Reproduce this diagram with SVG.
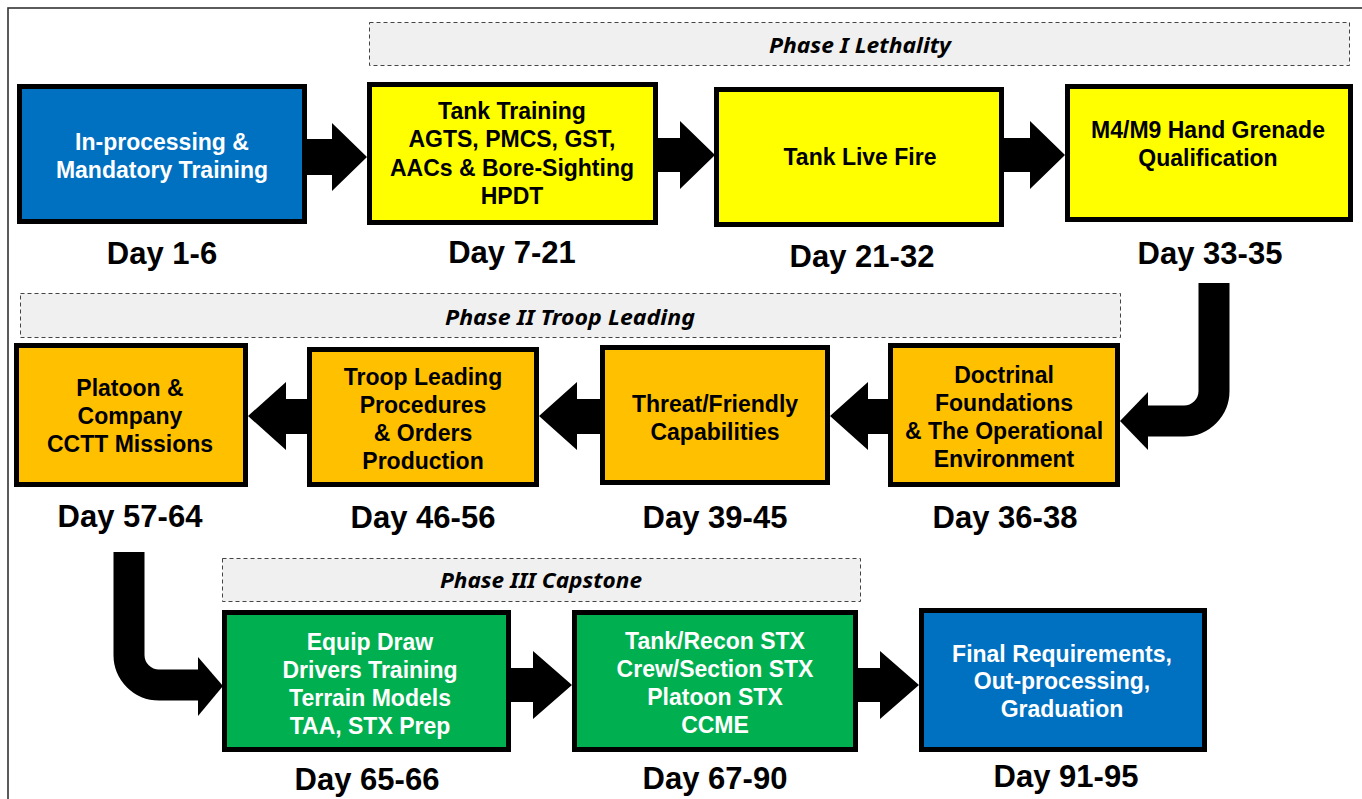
<svg xmlns="http://www.w3.org/2000/svg" width="1362" height="799" viewBox="0 0 1362 799">
<style>
.box{stroke:#000;stroke-width:5}
.blue{fill:#0070C0}.yellow{fill:#FFFF00}.orange{fill:#FFC000}.green{fill:#00B050}
.t{font-family:"Liberation Sans",Arial,sans-serif;font-weight:bold;font-size:23px;text-anchor:middle}
.w{fill:#fff}.k{fill:#000}
.day{font-family:"Liberation Sans",Arial,sans-serif;font-weight:bold;font-size:31px;text-anchor:middle;fill:#000}
.phase{fill:#f0f0f0;stroke:#444;stroke-width:1;stroke-dasharray:4 3}
.pt{font-family:"Noto Sans","DejaVu Sans",sans-serif;font-weight:bold;font-style:italic;font-size:21px;text-anchor:middle;fill:#000}
.arr{fill:#000}
.curve{fill:none;stroke:#000;stroke-width:31}
</style>
<rect x="0" y="0" width="1362" height="799" fill="#fff"/>
<rect x="8" y="8" width="1420" height="900" fill="none" stroke="#333" stroke-width="1.6"/>

<g id="phase1"><rect class="phase" x="369.5" y="22.5" width="980" height="43"/><text class="pt" x="860" y="53" textLength="182" lengthAdjust="spacingAndGlyphs">Phase I Lethality</text></g>
<g id="phase2"><rect class="phase" x="20.5" y="293.5" width="1100" height="44"/><text class="pt" x="570" y="325" textLength="250" lengthAdjust="spacingAndGlyphs">Phase II Troop Leading</text></g>
<g id="phase3"><rect class="phase" x="222.5" y="558.5" width="638" height="43"/><text class="pt" x="541" y="588" textLength="202" lengthAdjust="spacingAndGlyphs">Phase III Capstone</text></g>

<g id="connectors">
<polygon class="arr" points="305,139 332,139 332,123 367,157 332,191 332,175 305,175"/>
<polygon class="arr" points="656,138 680,138 680,121 715,155 680,189 680,172 656,172"/>
<polygon class="arr" points="1002,138 1030,138 1030,121 1065,155 1030,189 1030,172 1002,172"/>
<polygon class="arr" points="890,399 868,399 868,382 830,416 868,450 868,434 890,434"/>
<polygon class="arr" points="602,399 577,399 577,382 539,416 577,450 577,434 602,434"/>
<polygon class="arr" points="309,399 286,399 286,382 248,416 286,450 286,434 309,434"/>
<polygon class="arr" points="509,668 533,668 533,651 572,685 533,719 533,702 509,702"/>
<polygon class="arr" points="856,668 880,668 880,651 919,685 880,719 880,702 856,702"/>
<path class="curve" d="M1214,283 V391 A30,30 0 0 1 1184,421 H1146"/>
<polygon class="arr" points="1148,392 1120,421 1148,450"/>
<path class="curve" d="M129,552 V655 A30,30 0 0 0 159,685 H200"/>
<polygon class="arr" points="198,657 223,686 198,716"/>
</g>

<g id="n1"><rect class="box blue" x="19.5" y="86.5" width="285" height="135"/>
<text class="t w" x="162" y="150">In-processing &amp;</text><text class="t w" x="162" y="178">Mandatory Training</text>
<text class="day" x="162" y="264">Day 1-6</text></g>

<g id="n2"><rect class="box yellow" x="369.5" y="84.5" width="286" height="138"/>
<text class="t k" x="512" y="119">Tank Training</text><text class="t k" x="512" y="147">AGTS, PMCS, GST,</text><text class="t k" x="512" y="176">AACs &amp; Bore-Sighting</text><text class="t k" x="512" y="204">HPDT</text>
<text class="day" x="512" y="263">Day 7-21</text></g>

<g id="n3"><rect class="box yellow" x="716.5" y="89.5" width="285" height="135"/>
<text class="t k" x="860" y="165">Tank Live Fire</text>
<text class="day" x="862" y="267">Day 21-32</text></g>

<g id="n4"><rect class="box yellow" x="1067.5" y="86.5" width="283" height="133"/>
<text class="t k" x="1208" y="138">M4/M9 Hand Grenade</text><text class="t k" x="1208" y="166">Qualification</text>
<text class="day" x="1210" y="264">Day 33-35</text></g>

<g id="n5"><rect class="box orange" x="890.5" y="345.5" width="227" height="139"/>
<text class="t k" x="1004" y="383">Doctrinal</text><text class="t k" x="1004" y="411">Foundations</text><text class="t k" x="1004" y="439">&amp; The Operational</text><text class="t k" x="1004" y="467">Environment</text>
<text class="day" x="1005" y="528">Day 36-38</text></g>

<g id="n6"><rect class="box orange" x="602.5" y="347.5" width="225" height="135"/>
<text class="t k" x="715" y="412">Threat/Friendly</text><text class="t k" x="715" y="440">Capabilities</text>
<text class="day" x="715" y="528">Day 39-45</text></g>

<g id="n7"><rect class="box orange" x="309.5" y="349.5" width="227" height="135"/>
<text class="t k" x="423" y="385">Troop Leading</text><text class="t k" x="423" y="413">Procedures</text><text class="t k" x="423" y="441">&amp; Orders</text><text class="t k" x="423" y="469">Production</text>
<text class="day" x="423" y="528">Day 46-56</text></g>

<g id="n8"><rect class="box orange" x="16.5" y="345.5" width="229" height="139"/>
<text class="t k" x="130" y="396">Platoon &amp;</text><text class="t k" x="130" y="424">Company</text><text class="t k" x="130" y="452">CCTT Missions</text>
<text class="day" x="130" y="527">Day 57-64</text></g>

<g id="n9"><rect class="box green" x="224.5" y="612.5" width="284" height="137"/>
<text class="t w" x="370" y="650">Equip Draw</text><text class="t w" x="370" y="678">Drivers Training</text><text class="t w" x="370" y="706">Terrain Models</text><text class="t w" x="370" y="734">TAA, STX Prep</text>
<text class="day" x="367" y="790">Day 65-66</text></g>

<g id="n10"><rect class="box green" x="574.5" y="612.5" width="281" height="137"/>
<text class="t w" x="715" y="649">Tank/Recon STX</text><text class="t w" x="715" y="677">Crew/Section STX</text><text class="t w" x="715" y="705">Platoon STX</text><text class="t w" x="715" y="733">CCME</text>
<text class="day" x="715" y="789">Day 67-90</text></g>

<g id="n11"><rect class="box blue" x="921.5" y="610.5" width="283" height="139"/>
<text class="t w" x="1062" y="662">Final Requirements,</text><text class="t w" x="1062" y="689">Out-processing,</text><text class="t w" x="1062" y="717">Graduation</text>
<text class="day" x="1066" y="787">Day 91-95</text></g>
</svg>
